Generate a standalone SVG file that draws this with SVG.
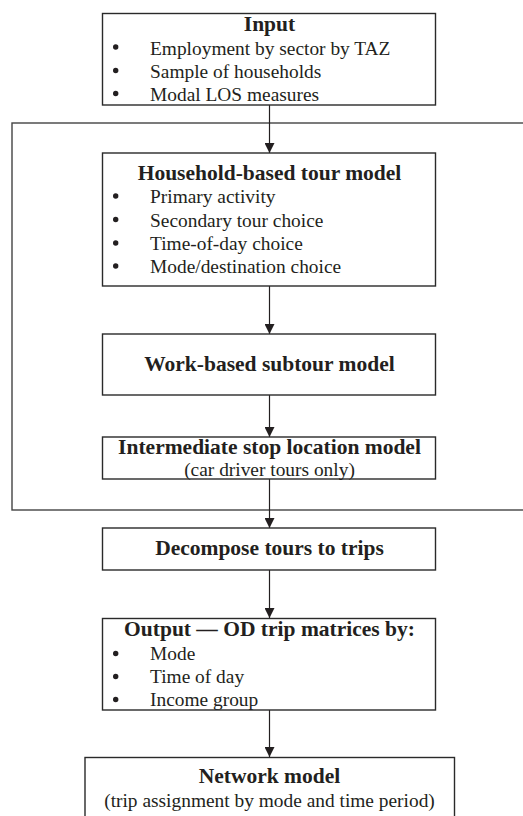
<svg xmlns="http://www.w3.org/2000/svg" width="523" height="816" viewBox="0 0 523 816">
<defs>
<style>
.box{fill:#fff;stroke:#2a2a2a;stroke-width:1.4}
.outer{fill:none;stroke:#444;stroke-width:1.4}
.t{font-family:"Liberation Serif","Times New Roman",serif;fill:#231f20}
.h{font-size:21.5px;font-weight:bold;text-anchor:middle}
.b{font-size:19.4px}
.c{font-size:19.4px;text-anchor:middle}
.dot{fill:#231f20}
.edge{stroke:#231f20;stroke-width:1.2;fill:none;marker-end:url(#arr)}
</style>
<marker id="arr" markerWidth="10" markerHeight="10" refX="10" refY="5" orient="auto" markerUnits="userSpaceOnUse">
<path d="M0,0 L10,5 L0,10 Z" fill="#231f20"/>
</marker>
</defs>
<rect width="523" height="816" fill="#fff"/>
<rect id="loop" class="outer" x="12" y="123" width="530" height="387"/>
<g id="connectors">
<line class="edge" x1="269.5" y1="105" x2="269.5" y2="153"/>
<line class="edge" x1="269.5" y1="286" x2="269.5" y2="334"/>
<line class="edge" x1="269.5" y1="395" x2="269.5" y2="437"/>
<line class="edge" x1="269.5" y1="479" x2="269.5" y2="528"/>
<line class="edge" x1="269.5" y1="570" x2="269.5" y2="618"/>
<line class="edge" x1="269.5" y1="710" x2="269.5" y2="757"/>
</g>
<g id="input">
<rect class="box" x="102.5" y="13.5" width="333" height="91.5"/>
<text class="t h" x="269.5" y="31">Input</text>
<circle class="dot" cx="115.7" cy="47" r="2.7"/>
<circle class="dot" cx="115.7" cy="70.5" r="2.7"/>
<circle class="dot" cx="115.7" cy="93.5" r="2.7"/>
<text class="t b" x="150" y="54.5">Employment by sector by TAZ</text>
<text class="t b" x="150" y="78">Sample of households</text>
<text class="t b" x="150" y="100.5">Modal LOS measures</text>
</g>
<g id="household">
<rect class="box" x="102.5" y="153" width="333" height="133"/>
<text class="t h" x="269.5" y="180">Household-based tour model</text>
<circle class="dot" cx="115.7" cy="196" r="2.7"/>
<circle class="dot" cx="115.7" cy="219.5" r="2.7"/>
<circle class="dot" cx="115.7" cy="243" r="2.7"/>
<circle class="dot" cx="115.7" cy="266" r="2.7"/>
<text class="t b" x="150" y="203">Primary activity</text>
<text class="t b" x="150" y="226.5">Secondary tour choice</text>
<text class="t b" x="150" y="250">Time-of-day choice</text>
<text class="t b" x="150" y="273">Mode/destination choice</text>
</g>
<g id="workbased">
<rect class="box" x="102.5" y="334" width="333" height="61"/>
<text class="t h" x="269.5" y="371">Work-based subtour model</text>
</g>
<g id="intermediate">
<rect class="box" x="102.5" y="437" width="333" height="42"/>
<text class="t h" x="269.5" y="454">Intermediate stop location model</text>
<text class="t c" x="269.5" y="476">(car driver tours only)</text>
</g>
<g id="decompose">
<rect class="box" x="102.5" y="528" width="333" height="42"/>
<text class="t h" x="269.5" y="555">Decompose tours to trips</text>
</g>
<g id="output">
<rect class="box" x="102.5" y="618.5" width="333" height="91.5"/>
<text class="t h" x="269.5" y="636">Output — OD trip matrices by:</text>
<circle class="dot" cx="115.7" cy="653.5" r="2.7"/>
<circle class="dot" cx="115.7" cy="676.5" r="2.7"/>
<circle class="dot" cx="115.7" cy="699.5" r="2.7"/>
<text class="t b" x="150" y="660">Mode</text>
<text class="t b" x="150" y="683">Time of day</text>
<text class="t b" x="150" y="705.5">Income group</text>
</g>
<g id="network">
<rect class="box" x="85" y="757.5" width="369.5" height="80"/>
<text class="t h" x="269.5" y="783">Network model</text>
<text class="t c" x="269.5" y="807">(trip assignment by mode and time period)</text>
</g>
</svg>
